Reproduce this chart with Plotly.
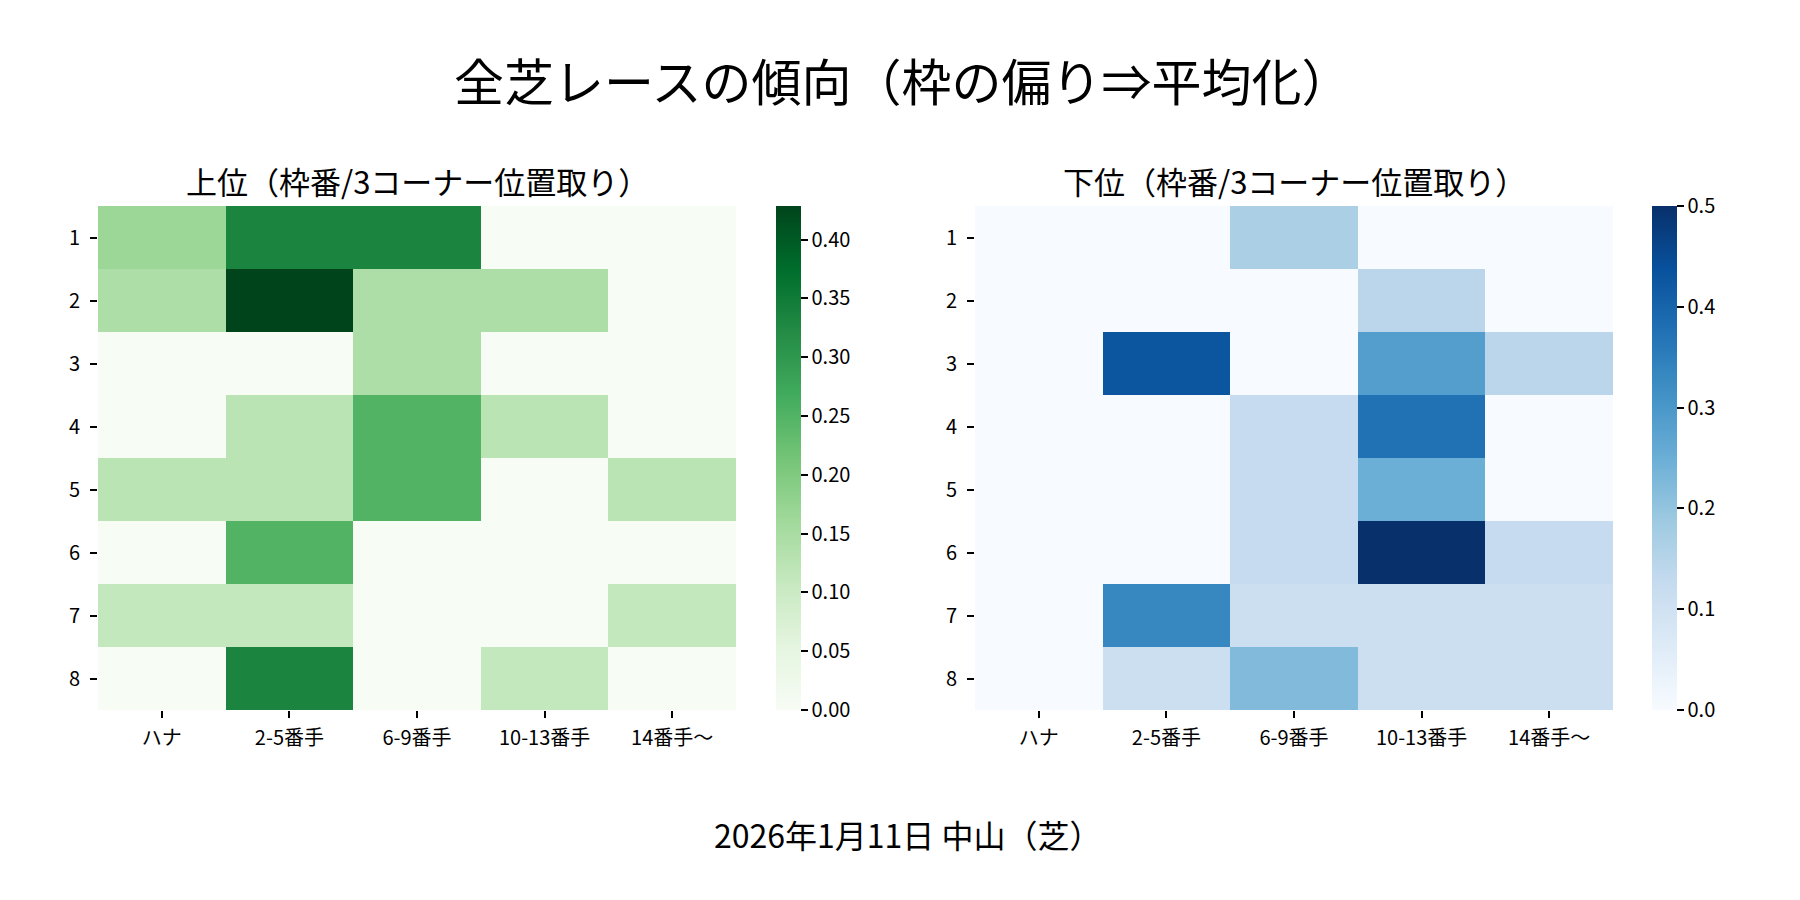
import plotly.graph_objects as go
import plotly.colors as pc

# ---- data
row_labels = ["1", "2", "3", "4", "5", "6", "7", "8"]
col_labels = ["ハナ", "2-5番手", "6-9番手", "10-13番手", "14番手〜"]

# upper finishers (share per frame)
upper_z = [
	[1/6, 2/6, 2/6, 0, 0],
	[1/7, 3/7, 1/7, 1/7, 0],
	[0, 0, 1/7, 0, 0],
	[0, 1/8, 2/8, 1/8, 0],
	[1/8, 1/8, 2/8, 0, 1/8],
	[0, 2/8, 0, 0, 0],
	[1/9, 1/9, 0, 0, 1/9],
	[0, 3/9, 0, 1/9, 0],
]
# lower finishers
lower_z = [
	[0, 0, 1/6, 0, 0],
	[0, 0, 0, 1/7, 0],
	[0, 3/7, 0, 2/7, 1/7],
	[0, 0, 1/8, 3/8, 0],
	[0, 0, 1/8, 2/8, 0],
	[0, 0, 1/8, 4/8, 1/8],
	[0, 3/9, 1/9, 1/9, 1/9],
	[0, 1/9, 2/9, 1/9, 1/9],
]
upper_ticks = [0.0, 0.05, 0.10, 0.15, 0.20, 0.25, 0.30, 0.35, 0.40]
lower_ticks = [0.0, 0.1, 0.2, 0.3, 0.4, 0.5]

main_title = "全芝レースの傾向（枠の偏り⇒平均化）"
upper_title = "上位（枠番/3コーナー位置取り）"
lower_title = "下位（枠番/3コーナー位置取り）"
footer = "2026年1月11日 中山（芝）"

FONT = "Noto Sans CJK JP"
W, H = 1800, 900
TOP, BOTTOM = 198, 702

def cscale(colors):
	n = len(colors) - 1
	return [[i / n, c] for i, c in enumerate(colors)]

def cbar(x_px, vals, fmt):
	return dict(
		x=x_px / W, xanchor="left", xpad=0, ypad=0,
		y=1 - (TOP + BOTTOM) / 2 / H, yanchor="middle",
		len=BOTTOM - TOP, lenmode="pixels", thickness=25,
		outlinewidth=0,
		ticks="outside", ticklen=7, tickwidth=1.5, tickcolor="black",
		tickvals=vals, ticktext=[fmt % v for v in vals],
		tickfont=dict(size=20, color="black", family=FONT),
	)

# ---- figure
fig = go.Figure()

fig.add_trace(go.Heatmap(
	z=upper_z, x=col_labels, y=row_labels,
	colorscale=cscale(pc.sequential.Greens),
	zmin=0, zmax=max(max(r) for r in upper_z),
	xaxis="x", yaxis="y",
	hoverinfo="skip",
	colorbar=cbar(768, upper_ticks, "%.2f"),
))

fig.add_trace(go.Heatmap(
	z=lower_z, x=col_labels, y=row_labels,
	colorscale=cscale(pc.sequential.Blues),
	zmin=0, zmax=0.5,
	xaxis="x2", yaxis="y2",
	hoverinfo="skip",
	colorbar=cbar(1644, lower_ticks, "%.1f"),
))

ax_common = dict(
	showgrid=False, zeroline=False, showline=False,
	ticks="outside", ticklen=7, tickwidth=1.5, tickcolor="black",
	tickfont=dict(size=20, color="black", family=FONT),
)
y_dom = [1 - BOTTOM / H, 1 - TOP / H]

fig.update_layout(
	width=W, height=H,
	margin=dict(l=0, r=0, t=0, b=0),
	paper_bgcolor="white", plot_bgcolor="white",
	font=dict(family=FONT, color="black"),
	xaxis=dict(domain=[90 / W, 728 / W], anchor="y", ticklabelstandoff=3, **ax_common),
	yaxis=dict(domain=y_dom, anchor="x", autorange="reversed", ticklabelstandoff=6, **ax_common),
	xaxis2=dict(domain=[967 / W, 1605 / W], anchor="y2", ticklabelstandoff=3, **ax_common),
	yaxis2=dict(domain=y_dom, anchor="x2", autorange="reversed", ticklabelstandoff=6, **ax_common),
	annotations=[
		dict(text=main_title, x=0.497, y=1 - 71 / H, xref="paper", yref="paper",
			xanchor="center", yanchor="middle", showarrow=False, font=dict(size=50)),
		dict(text=upper_title, x=409 / W, y=1 - 173 / H, xref="paper", yref="paper",
			xanchor="center", yanchor="middle", showarrow=False, font=dict(size=31)),
		dict(text=lower_title, x=1286 / W, y=1 - 173 / H, xref="paper", yref="paper",
			xanchor="center", yanchor="middle", showarrow=False, font=dict(size=31)),
		dict(text=footer, x=0.5, y=1 - 826 / H, xref="paper", yref="paper",
			xanchor="center", yanchor="middle", showarrow=False, font=dict(size=32)),
	],
)

fig.write_html("out.html")
